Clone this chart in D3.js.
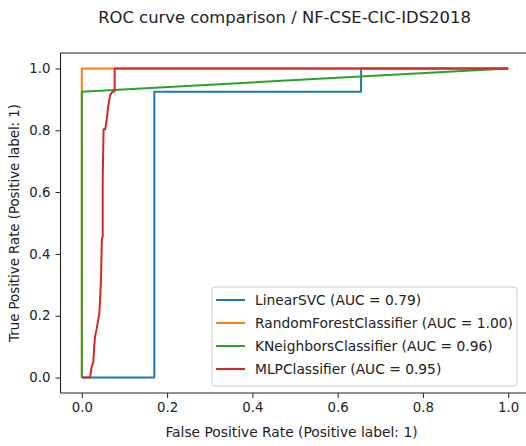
<!DOCTYPE html>
<html>
<head>
<meta charset="utf-8">
<script src="https://cdn.jsdelivr.net/npm/d3@7"></script>
<style>
    body { margin: 0; background: #ffffff; }
    svg { display: block; font-family: "DejaVu Sans", sans-serif; }
</style>
</head>
<body>
<svg id="chart" xmlns="http://www.w3.org/2000/svg"></svg>
<script>
// ROC points: [false positive rate, true positive rate]
const linearSvc = [[0, 0], [0.17, 0], [0.17, 0.925], [0.655, 0.925], [0.655, 1], [1, 1]];
const randomForest = [[0, 0], [0, 1], [1, 1]];
const kNeighbors = [[0, 0], [0, 0.925], [1, 1]];
const mlp = [
    [0, 0], [0.0195, 0], [0.023, 0.034], [0.027, 0.051], [0.029, 0.099], [0.031, 0.132],
    [0.035, 0.159], [0.041, 0.208], [0.043, 0.256], [0.045, 0.316], [0.047, 0.451],
    [0.049, 0.456], [0.049, 0.641], [0.051, 0.803], [0.055, 0.803], [0.059, 0.841],
    [0.062, 0.879], [0.066, 0.911], [0.070, 0.922], [0.077, 0.927], [0.077, 1], [1, 1]
];
const seriesNames = ['LinearSVC', 'RandomForestClassifier', 'KNeighborsClassifier', 'MLPClassifier'];
const aucValues = [0.79, 1.00, 0.96, 0.95];
const tickValues = [0, 0.2, 0.4, 0.6, 0.8, 1.0];

const colors = ['#1f77b4', '#ff7f0e', '#2ca02c', '#d62728'];
const curves = [linearSvc, randomForest, kNeighbors, mlp];

const width = 526;
const height = 446;
const plot = {left: 60.5, right: 529.5, top: 53, bottom: 393};
const fontSize = '13.3px';
const wideFontSize = '13.8px';

const svg = d3.select('#chart')
    .attr('width', width)
    .attr('height', height);

svg.append('rect')
    .attr('width', width)
    .attr('height', height)
    .attr('fill', '#ffffff');

const x = d3.scaleLinear().domain([-0.05, 1.05]).range([plot.left, plot.right]);
const y = d3.scaleLinear().domain([-0.05, 1.05]).range([plot.bottom, plot.top]);

// title
svg.append('text')
    .attr('x', 284.5)
    .attr('y', 23)
    .attr('text-anchor', 'middle')
    .style('font-size', '16.4px')
    .attr('fill', '#222')
    .text('ROC curve comparison / NF-CSE-CIC-IDS2018');

svg.append('clipPath')
    .attr('id', 'plot-clip')
    .append('rect')
    .attr('x', plot.left)
    .attr('y', plot.top)
    .attr('width', plot.right - plot.left)
    .attr('height', plot.bottom - plot.top);

const line = d3.line()
    .x(d => x(d[0]))
    .y(d => y(d[1]));

svg.append('g')
    .attr('clip-path', 'url(#plot-clip)')
    .selectAll('path')
    .data(curves)
    .enter()
    .append('path')
    .attr('d', d => line(d))
    .attr('fill', 'none')
    .attr('stroke', (d, i) => colors[i])
    .attr('stroke-width', 2)
    .attr('stroke-linejoin', 'round');

// axes
const xAxis = svg.append('g')
    .attr('transform', `translate(0,${plot.bottom})`)
    .call(d3.axisBottom(x)
        .tickValues(tickValues)
        .tickFormat(d3.format('.1f'))
        .tickSize(5)
        .tickPadding(5)
        .tickSizeOuter(0));

const yAxis = svg.append('g')
    .attr('transform', `translate(${plot.left},0)`)
    .call(d3.axisLeft(y)
        .tickValues(tickValues)
        .tickFormat(d3.format('.1f'))
        .tickSize(5)
        .tickPadding(5)
        .tickSizeOuter(0));

[xAxis, yAxis].forEach(a => {
    a.selectAll('text')
        .style('font-size', fontSize)
        .style('font-family', '"DejaVu Sans", sans-serif')
        .attr('fill', '#222');
    a.selectAll('line').attr('stroke', '#222');
    a.select('.domain').attr('stroke', '#222').attr('stroke-width', 1.1);
});
xAxis.select('.domain').attr('d', `M${plot.left},0H${plot.right}`);
yAxis.select('.domain').attr('d', `M0,${plot.bottom}V${plot.top}`);

// top spine
svg.append('line')
    .attr('x1', plot.left)
    .attr('x2', plot.right)
    .attr('y1', plot.top)
    .attr('y2', plot.top)
    .attr('stroke', '#222')
    .attr('stroke-width', 1.1);

// axis titles
svg.append('text')
    .attr('x', 291.5)
    .attr('y', 437)
    .attr('text-anchor', 'middle')
    .style('font-size', wideFontSize)
    .attr('fill', '#222')
    .text('False Positive Rate (Positive label: 1)');

svg.append('text')
    .attr('transform', 'rotate(-90)')
    .attr('x', -(plot.top + plot.bottom) / 2)
    .attr('y', 19)
    .attr('text-anchor', 'middle')
    .style('font-size', fontSize)
    .attr('fill', '#222')
    .text('True Positive Rate (Positive label: 1)');

// legend
const legend = svg.append('g');
legend.append('rect')
    .attr('x', 212)
    .attr('y', 287)
    .attr('width', 305)
    .attr('height', 99)
    .attr('rx', 3)
    .attr('fill', '#ffffff')
    .attr('fill-opacity', 0.8)
    .attr('stroke', '#cccccc');

const rows = legend.selectAll('g.row')
    .data(seriesNames)
    .enter()
    .append('g')
    .attr('class', 'row')
    .attr('transform', (d, i) => `translate(0,${300 + i * 23})`);

rows.append('line')
    .attr('x1', 216)
    .attr('x2', 245)
    .attr('stroke', (d, i) => colors[i])
    .attr('stroke-width', 2);

rows.append('text')
    .attr('x', 255)
    .attr('dy', '0.35em')
    .style('font-size', wideFontSize)
    .attr('fill', '#222')
    .text((d, i) => `${d} (AUC = ${aucValues[i].toFixed(2)})`);
</script>
</body>
</html>
